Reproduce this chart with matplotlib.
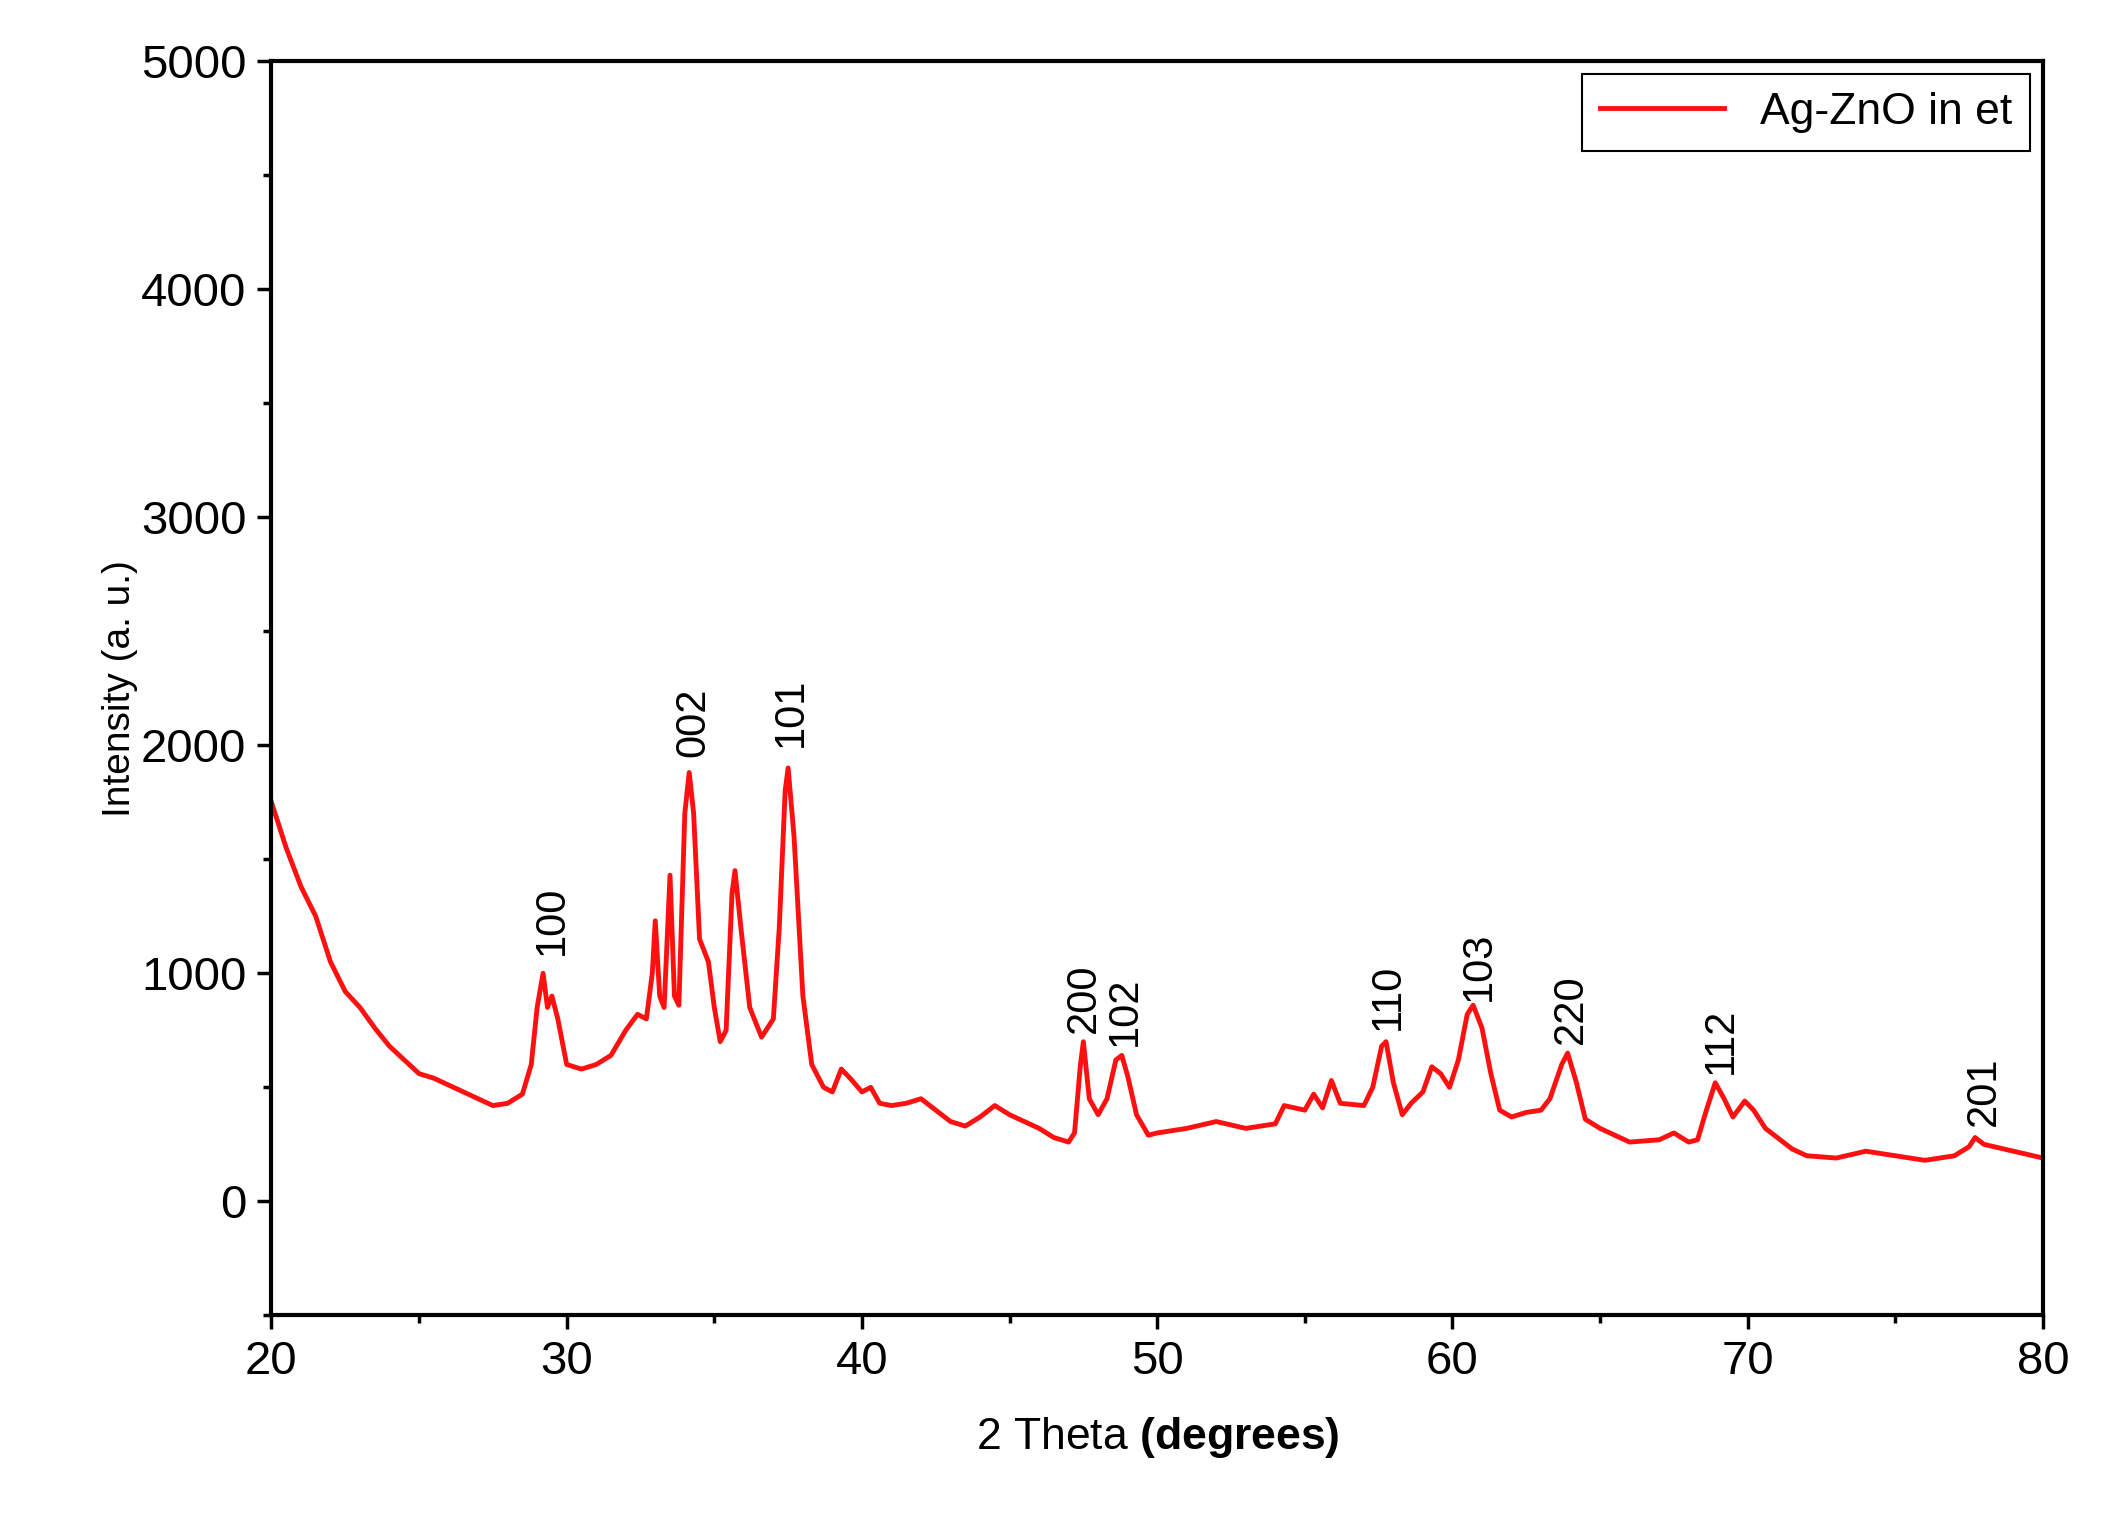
import matplotlib
matplotlib.use("Agg")
import matplotlib.pyplot as plt
from matplotlib.ticker import MultipleLocator

plt.rcParams["font.family"] = ["Liberation Sans", "DejaVu Sans"]
plt.rcParams["mathtext.fontset"] = "custom"
plt.rcParams["mathtext.bf"] = "Liberation Sans:bold"

# 2theta / intensity
two_theta = [20, 20.5, 21, 21.5, 22, 22.5, 23, 23.5, 24, 24.5, 25, 25.5, 26, 26.5, 27, 27.5,
             28, 28.5, 28.8, 29.0, 29.2, 29.35, 29.5, 29.7, 30, 30.5, 31, 31.5, 32, 32.4,
             32.7, 32.9, 33.0, 33.15, 33.3, 33.5, 33.65, 33.8, 34.0, 34.15, 34.3, 34.5,
             34.8, 35.0, 35.2, 35.4, 35.6, 35.7, 35.9, 36.2, 36.6, 37.0, 37.2, 37.4, 37.5,
             37.7, 38.0, 38.3, 38.7, 39, 39.3, 39.6, 40, 40.3, 40.6, 41, 41.5, 42, 42.5,
             43, 43.5, 44, 44.5, 45, 45.5, 46, 46.5, 47, 47.2, 47.4, 47.5, 47.7, 48, 48.3,
             48.6, 48.8, 49, 49.3, 49.7, 50, 51, 52, 53, 54, 54.3, 55, 55.3, 55.6, 55.9,
             56.2, 57, 57.3, 57.6, 57.75, 58, 58.3, 58.6, 59, 59.3, 59.6, 59.9, 60.2, 60.5,
             60.7, 61, 61.3, 61.6, 62, 62.5, 63, 63.3, 63.7, 63.9, 64.2, 64.5, 65, 66, 67,
             67.5, 68, 68.3, 68.6, 68.9, 69.2, 69.5, 69.9, 70.2, 70.6, 71, 71.5, 72, 73,
             74, 75, 76, 77, 77.5, 77.7, 78, 79, 80]
intensity = [1750, 1550, 1380, 1250, 1050, 920, 850, 760, 680, 620, 560, 540, 510, 480, 450, 420,
             430, 470, 600, 850, 1000, 850, 900, 800, 600, 580, 600, 640, 750, 820,
             800, 1000, 1230, 900, 850, 1430, 900, 860, 1700, 1880, 1700, 1150,
             1050, 850, 700, 750, 1350, 1450, 1200, 850, 720, 800, 1200, 1800, 1900,
             1600, 900, 600, 500, 480, 580, 540, 480, 500, 430, 420, 430, 450, 400,
             350, 330, 370, 420, 380, 350, 320, 280, 260, 300, 600, 700, 450, 380, 450,
             620, 640, 550, 380, 290, 300, 320, 350, 320, 340, 420, 400, 470, 410, 530,
             430, 420, 500, 680, 700, 520, 380, 430, 480, 590, 560, 500, 620, 820,
             860, 760, 560, 400, 370, 390, 400, 450, 600, 650, 520, 360, 320, 260, 270,
             300, 260, 270, 400, 520, 450, 370, 440, 400, 320, 280, 230, 200, 190,
             220, 200, 180, 200, 240, 280, 250, 220, 190]

peak_labels = ["100", "002", "101", "200", "102", "110", "103", "220", "112", "201"]
peak_x = [29.5, 34.3, 37.6, 47.5, 48.9, 57.8, 60.9, 64.0, 69.1, 78.0]
peak_y = [1080, 1950, 1990, 740, 680, 750, 880, 690, 560, 330]

fig = plt.figure(figsize=(21.04, 15.19), dpi=100)
ax = fig.add_axes([0.129, 0.134, 0.842, 0.826])
ax.plot(two_theta, intensity, color="#ff1010", lw=3.5, label="Ag-ZnO in et")
for lab, x, y in zip(peak_labels, peak_x, peak_y):
    ax.text(x, y, lab, rotation=90, ha="center", va="bottom", fontsize=30)

ax.set_xlim(20, 80)
ax.set_ylim(-500, 5000)
ax.xaxis.set_major_locator(MultipleLocator(10))
ax.xaxis.set_minor_locator(MultipleLocator(5))
ax.yaxis.set_major_locator(MultipleLocator(1000))
ax.yaxis.set_minor_locator(MultipleLocator(500))
ax.tick_params(which="major", length=10, width=2.5, labelsize=34, pad=8)
ax.tick_params(which="minor", length=6, width=2.5)
for s in ax.spines.values():
    s.set_linewidth(3)
ax.set_xlabel("2 Theta $\\mathbf{(degrees)}$", fontsize=32, labelpad=22)
ax.set_ylabel("Intensity (a. u.)", fontsize=28, labelpad=2)
leg = ax.legend(loc="upper right", fontsize=32, fancybox=False, framealpha=1,
                edgecolor="black", handlelength=2.8, borderaxespad=0.3)
leg.get_frame().set_linewidth(1.5)
fig.savefig("out.png")
